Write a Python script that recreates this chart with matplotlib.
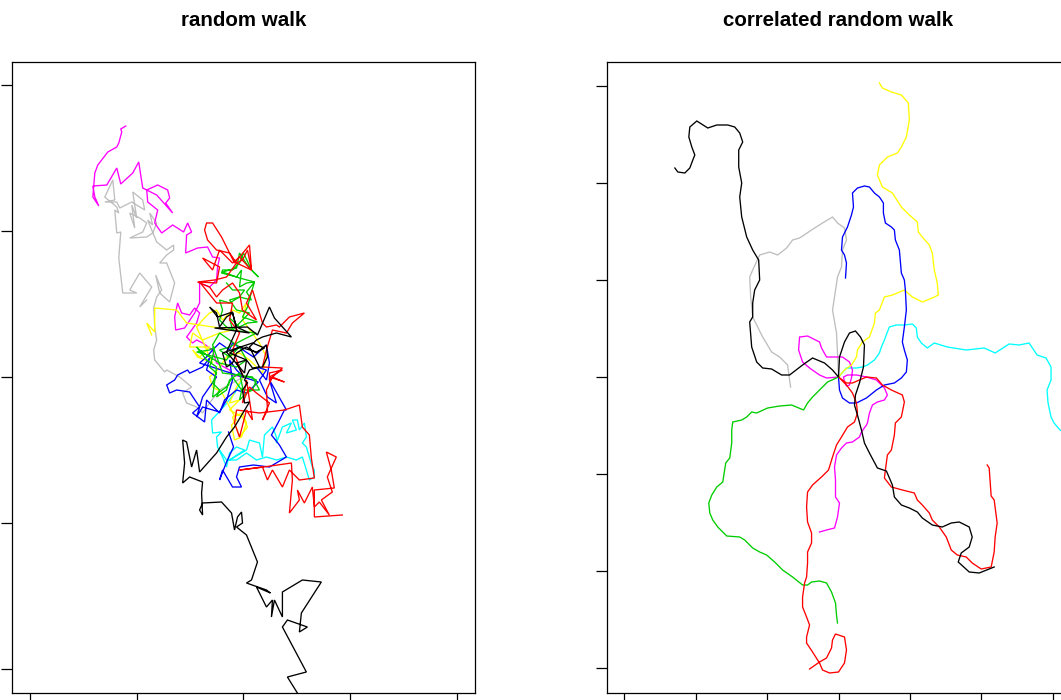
import numpy as np
import matplotlib
matplotlib.use("Agg")
import matplotlib.pyplot as plt

#Walk vertices, both panels start at the origin
#Left panel: plain random walk
rw_black = [(0, 0), (-7, 14), (3, 17), (-14, 24), (-4, 30), (13, 25), (21, 29), (9, 34),
            (-21, 24), (-17, 10), (-11, 14), (-7, 24), (3, 30), (13, 24), (23, 32), (24, 20),
            (19, 10), (9, 9), (3, 17), (1, 4), (-17, 25), (-7, 47), (-11, 65), (-26, 60),
            (-34, 70), (-27, 64), (-24, 50), (-17, 60), (-11, 64), (-7, 50), (6, 44),
            (-29, 49), (4, 50), (14, 42), (26, 70), (31, 59), (48, 40), (33, 44), (19, 40),
            (13, 37), (6, 30), (16, 10), (6, 7), (1, -3), (4, -6), (-1, -13), (1, -26),
            (6, -25), (-9, -50), (-17, -60), (-27, -76), (-44, -95), (-47, -73), (-52, -90),
            (-57, -65), (-61, -63), (-59, -86), (-61, -106), (-54, -100), (-41, -105),
            (-42, -116), (-41, -138), (-44, -133), (-41, -126), (-22, -125), (-12, -136),
            (-9, -153), (-6, -140), (-2, -135), (-1, -146), (-7, -150), (3, -158), (14, -185),
            (8, -203), (3, -206), (23, -213), (27, -216), (13, -210), (23, -230), (29, -223),
            (28, -240), (31, -223), (39, -240), (39, -215), (59, -203), (78, -205), (58, -236),
            (56, -255), (64, -250), (44, -243), (39, -250), (63, -295), (44, -300), (54, -316),
            (60, -330)]
rw_red = [(0, 0), (-11, 27), (-4, 44), (-14, 57), (-11, 74), (-27, 74), (-44, 95), (-27, 94),
          (-24, 110), (-41, 119), (-31, 107), (-24, 127), (-11, 114), (-4, 120), (8, 107),
          (6, 132), (-9, 114), (-17, 130), (-22, 140), (-31, 154), (-37, 154), (-39, 147),
          (-36, 137), (-27, 127), (-14, 124), (-7, 114), (-1, 117), (4, 127), (8, 107),
          (-7, 114), (-17, 100), (-29, 97), (-46, 95), (-34, 90), (-27, 80), (-21, 87),
          (-11, 94), (-4, 84), (-1, 67), (13, 57), (3, 74), (9, 87), (19, 54), (23, 50),
          (33, 52), (36, 50), (46, 60), (61, 64), (49, 54), (43, 44), (29, 47), (23, 27),
          (19, 10), (39, 9), (26, -3), (26, 4), (39, 7), (26, 0), (41, -5), (29, 0), (23, -13),
          (24, -33), (19, -43), (26, -26), (13, -16), (6, -10), (-1, -26), (3, -3), (9, -43),
          (3, -33), (-4, -60), (-9, -46), (-7, -33), (16, -36), (41, -33), (56, -28),
          (59, -50), (66, -58), (68, -81), (71, -101), (56, -103), (46, -93), (39, -110),
          (29, -93), (24, -103), (19, -90), (-4, -93), (13, -91), (48, -86), (49, -103),
          (46, -136), (56, -123), (54, -113), (61, -126), (69, -110), (71, -130), (76, -125),
          (86, -138), (78, -123), (89, -115), (84, -100), (93, -80), (83, -75), (88, -93),
          (91, -111), (71, -113), (71, -140), (99, -138)]
rw_green = [(0, 0), (6, 0), (13, -3), (9, -13), (3, -16), (-4, -23), (-1, -10), (-4, 4),
            (-14, -3), (-17, -13), (-27, -20), (-24, -13), (-31, -6), (-27, 4), (-34, 10),
            (-31, 20), (-29, 30), (-34, 27), (-47, 25), (-17, 17), (-11, 27), (-4, 30),
            (-24, 44), (-31, 32), (-21, 4), (9, 0), (16, -13), (-2, -13), (-11, 0), (-17, -10),
            (-31, -20), (-27, 10), (-37, 17), (-47, 30), (-44, 27), (-34, 20), (-24, 14),
            (-7, 10), (3, 17), (-4, 30), (-14, 20), (-24, 27), (-14, 30), (-1, 37), (13, 44),
            (3, 45), (-11, 47), (-1, 57), (6, 64), (-7, 67), (-14, 77), (-4, 80), (8, 77),
            (3, 85), (11, 95), (-4, 99), (-21, 105), (-7, 109), (-4, 124), (5, 110), (15, 100),
            (8, 107), (0, 124), (-4, 114), (-11, 107), (-21, 107), (-22, 104), (-7, 100),
            (-2, 107), (-4, 90), (3, 94), (11, 95), (8, 85), (4, 70), (-1, 60), (14, 55),
            (4, 54), (-4, 50), (-14, 59), (-11, 47), (-17, 50), (-24, 57), (-21, 67),
            (-24, 77), (-14, 74), (-4, 80), (1, 87), (-11, 87), (-17, 94)]
rw_blue = [(0, 0), (-7, 7), (-14, 17), (-11, -3), (-17, -23), (-24, -35), (-41, -30),
           (-47, -40), (-41, -20), (-34, -10), (-27, 0), (-37, 7), (-34, 19), (-41, 10),
           (-54, 4), (-56, 7), (-66, 2), (-69, -3), (-77, -8), (-74, -16), (-67, -13),
           (-54, -15), (-44, -30), (-51, -36), (-39, -45), (-37, -23), (-24, -36), (-19, -23),
           (-7, -13), (3, -16), (15, -5), (-44, 14), (-37, 20), (-31, 27), (-24, 34),
           (-14, 27), (-11, 34), (10, 20), (23, 32), (26, 14), (23, -3), (13, 10), (23, 7),
           (16, -3), (24, -20), (33, -26), (26, -3), (30, -10), (43, -33), (41, -33),
           (35, -45), (28, -58), (36, -68), (43, -80), (26, -90), (10, -88), (-4, -90),
           (-7, -100), (-2, -110), (-11, -110), (-21, -93), (-24, -103), (-17, -85), (-10, -70),
           (-15, -55)]
rw_cyan = [(0, 0), (-8, -15), (-20, -30), (-32, -43), (-31, -56), (-22, -55), (-27, -60),
           (-26, -70), (-21, -80), (-17, -90), (-14, -76), (-7, -70), (1, -73), (-14, -83),
           (3, -73), (6, -63), (16, -66), (19, -80), (21, -58), (29, -50), (33, -60), (33, -66),
           (39, -50), (48, -46), (43, -56), (53, -53), (49, -43), (54, -43), (56, -53),
           (61, -46), (63, -60), (59, -66), (63, -70), (66, -80), (69, -90), (71, -93),
           (71, -100), (66, -103), (63, -93), (59, -80), (53, -83), (43, -80), (33, -83),
           (23, -80), (13, -83), (3, -76), (-7, -83), (-17, -83), (-24, -73)]
rw_magenta = [(0, 0), (-11, 2), (-14, 7), (-27, 14), (-31, 27), (-41, 34), (-47, 37), (-51, 34),
              (-57, 40), (-47, 54), (-44, 64), (-49, 69), (-54, 62), (-62, 64), (-66, 74),
              (-69, 60), (-68, 47), (-59, 49), (-49, 64), (-44, 74), (-44, 94), (-34, 90),
              (-27, 97), (-26, 110), (-24, 119), (-31, 120), (-36, 130), (-46, 129), (-58, 124),
              (-57, 142), (-52, 145), (-56, 154), (-60, 145), (-71, 152), (-82, 144), (-89, 154),
              (-86, 167), (-96, 175), (-97, 187), (-86, 192), (-76, 187), (-74, 179), (-78, 174),
              (-71, 164), (-87, 182), (-101, 189), (-105, 215), (-111, 204), (-123, 193),
              (-127, 209), (-137, 192), (-151, 191), (-149, 180), (-145, 171), (-151, 180),
              (-149, 204), (-146, 212), (-136, 225), (-127, 230), (-125, 234), (-122, 245),
              (-123, 248), (-118, 251)]
rw_yellow = [(0, 0), (-7, -10), (-14, -26), (-4, -23), (-14, -33), (-1, -40), (4, -50),
             (-4, -60), (-11, -40), (-1, -36), (3, -46), (-2, -60), (-9, -63), (-12, -48),
             (-7, -43), (-22, -15), (-31, -10), (-34, 0), (-26, 7), (-17, 20), (-4, 24), (6, 17),
             (19, 4), (23, 20), (16, 34), (-1, 57), (3, 74), (-4, 64), (-11, 67), (-21, 57),
             (-27, 67), (-34, 64), (-41, 57), (-47, 50), (-37, 27), (-31, 14), (-46, 20),
             (-51, 27), (-44, 20), (-34, 30), (-54, 30), (-51, 44), (-41, 37), (-24, 44),
             (-11, 47), (-57, 54), (-67, 67), (-89, 69), (-89, 45), (-97, 54), (-92, 42)]
rw_gray = [(0, 0), (-24, -13), (-34, -26), (-41, -36), (-47, -30), (-57, -26), (-61, -16),
           (-52, -10), (-64, 0), (-77, 7), (-79, 5), (-89, 17), (-90, 27), (-87, 37), (-89, 50),
           (-90, 69), (-87, 80), (-82, 87), (-88, 102), (-84, 84), (-74, 75), (-69, 94),
           (-77, 114), (-84, 114), (-77, 122), (-70, 127), (-70, 132), (-77, 127), (-87, 135),
           (-92, 147), (-96, 157), (-91, 152), (-94, 164), (-87, 154), (-91, 144), (-97, 140),
           (-114, 139), (-101, 145), (-97, 154), (-104, 159), (-114, 164), (-109, 149),
           (-112, 172), (-107, 159), (-111, 185), (-101, 177), (-99, 167), (-112, 175),
           (-124, 169), (-127, 175), (-139, 175), (-129, 177), (-131, 197), (-139, 180),
           (-127, 170), (-125, 164), (-129, 167), (-127, 144), (-123, 145), (-125, 119),
           (-121, 84), (-107, 84), (-114, 87), (-104, 104), (-92, 90), (-104, 70), (-97, 77)]

#Right panel: correlated random walk
crw_black = [(-164, 209), (-161, 205), (-154, 204), (-149, 209), (-146, 217), (-144, 222),
             (-147, 230), (-150, 240), (-149, 250), (-142, 256), (-131, 249), (-122, 252),
             (-111, 252), (-104, 250), (-99, 244), (-96, 235), (-100, 227), (-100, 210),
             (-97, 194), (-99, 180), (-97, 160), (-92, 140), (-86, 127), (-80, 117), (-79, 97),
             (-84, 87), (-86, 74), (-86, 60), (-89, 55), (-87, 30), (-82, 15), (-76, 9),
             (-67, 8), (-57, 2), (-49, 2), (-36, 12), (-26, 19), (-14, 14), (-6, 7), (0, 0),
             (1, 20), (6, 35), (11, 44), (17, 46), (22, 40), (26, 32), (25, 10), (21, -6),
             (17, -18), (16, -28), (19, -38), (23, -53), (26, -66), (31, -76), (39, -91),
             (48, -94), (54, -108), (56, -120), (63, -128), (71, -131), (79, -135), (84, -141),
             (94, -148), (104, -150), (113, -146), (121, -145), (131, -150), (134, -160),
             (131, -170), (123, -176), (120, -185), (131, -195), (141, -196), (156, -190)]
crw_red = [(-29, -292), (-19, -285), (-12, -281), (-7, -271), (-6, -263), (-3, -257),
           (6, -260), (8, -273), (6, -286), (0, -295), (-9, -296), (-16, -293), (-19, -286),
           (-26, -275), (-32, -266), (-32, -260), (-29, -248), (-32, -240), (-36, -230),
           (-36, -220), (-34, -206), (-32, -200), (-31, -186), (-31, -175), (-27, -166),
           (-27, -156), (-31, -145), (-32, -130), (-31, -115), (-26, -108), (-16, -99),
           (-10, -93), (-6, -80), (-2, -68), (3, -60), (9, -50), (16, -45), (19, -36),
           (18, -26), (14, -16), (8, -8), (0, 0), (8, -6), (14, -6), (21, -3), (28, 0),
           (38, -1), (44, -8), (53, -13), (64, -18), (66, -25), (63, -40), (57, -46), (56, -58),
           (53, -73), (49, -78), (47, -93), (46, -101), (53, -110), (64, -113), (76, -116),
           (79, -123), (84, -128), (91, -136), (94, -143), (101, -150), (108, -160), (113, -173),
           (119, -178), (128, -180), (134, -186), (143, -192), (153, -190), (156, -175),
           (157, -160), (159, -146), (156, -123), (153, -119), (151, -91), (149, -88)]
crw_green = [(0, 0), (-11, -5), (-19, -13), (-26, -20), (-31, -26), (-35, -33), (-47, -28),
             (-59, -29), (-71, -31), (-82, -36), (-87, -35), (-92, -40), (-97, -43), (-106, -45),
             (-107, -53), (-107, -66), (-109, -81), (-113, -86), (-116, -105), (-122, -110),
             (-127, -118), (-130, -126), (-129, -136), (-126, -143), (-121, -150), (-112, -159),
             (-99, -160), (-94, -163), (-86, -171), (-79, -175), (-72, -178), (-64, -185),
             (-56, -193), (-46, -200), (-36, -208), (-31, -208), (-27, -205), (-19, -204),
             (-12, -206), (-7, -215), (-3, -226), (-2, -238), (-1, -246)]
crw_blue = [(0, 0), (1, -13), (4, -21), (11, -26), (18, -26), (28, -21), (38, -13), (46, -8),
            (56, -6), (63, -1), (68, 5), (69, 17), (66, 27), (64, 35), (66, 50), (68, 67),
            (67, 87), (66, 97), (63, 104), (61, 127), (57, 137), (56, 147), (53, 150), (47, 154),
            (45, 164), (45, 174), (41, 180), (36, 184), (31, 190), (26, 191), (19, 189),
            (14, 184), (15, 170), (13, 162), (9, 150), (4, 140), (3, 127), (6, 122), (8, 114),
            (7, 99)]
crw_cyan = [(0, 0), (8, 9), (18, 9), (24, 10), (29, 12), (36, 17), (41, 24), (43, 30), (46, 37),
            (49, 45), (51, 50), (58, 52), (66, 52), (74, 53), (78, 49), (79, 40), (83, 34),
            (89, 29), (96, 34), (109, 30), (128, 27), (146, 29), (157, 24), (171, 33),
            (181, 32), (191, 34), (199, 22), (208, 19), (213, 10), (213, -3), (209, -13),
            (210, -26), (213, -40), (216, -46), (222, -53), (235, -60)]
crw_magenta = [(0, 0), (-12, -1), (-19, 2), (-29, 9), (-36, 15), (-40, 27), (-39, 40),
               (-31, 41), (-19, 35), (-17, 29), (-12, 20), (-2, 20), (4, 20), (11, 15), (14, 7),
               (13, -1), (11, -8), (8, -9), (6, -5), (5, 0), (9, 2), (18, 2), (28, 0), (38, -3),
               (46, -11), (49, -18), (46, -23), (39, -25), (34, -28), (31, -36), (29, -46),
               (28, -48), (23, -55), (21, -60), (14, -65), (8, -66), (3, -71), (-2, -78),
               (-4, -90), (-3, -103), (-3, -120), (1, -126), (-1, -140), (-4, -151), (-12, -153),
               (-19, -155)]
crw_yellow = [(0, 0), (6, 7), (13, 12), (18, 20), (19, 27), (24, 35), (31, 40), (36, 54),
              (37, 64), (41, 67), (46, 80), (54, 82), (66, 87), (74, 80), (84, 75), (94, 79),
              (100, 82), (99, 94), (96, 107), (94, 124), (91, 132), (84, 140), (80, 145),
              (79, 155), (71, 162), (63, 170), (54, 184), (44, 190), (39, 202), (41, 212),
              (49, 220), (59, 224), (63, 230), (68, 240), (71, 257), (70, 274), (63, 282),
              (53, 285), (44, 289), (41, 294)]
crw_gray = [(0, 0), (-1, 24), (-2, 44), (-6, 67), (-4, 80), (-1, 100), (3, 110), (4, 127),
            (8, 137), (6, 149), (-1, 154), (-6, 160), (-16, 154), (-27, 147), (-39, 139),
            (-46, 137), (-52, 129), (-61, 122), (-69, 125), (-79, 122), (-86, 107), (-89, 100),
            (-88, 80), (-86, 60), (-81, 50), (-76, 40), (-67, 25), (-59, 20), (-51, 12),
            (-49, -3), (-48, -10)]

#R default palette, drawn back to front
COLORS = {"black": "#000000", "red": "#FF0000", "green": "#00CD00", "blue": "#0000FF",
          "cyan": "#00FFFF", "magenta": "#FF00FF", "yellow": "#FFFF00", "gray": "#BEBEBE"}
ORDER = ["cyan", "gray", "magenta", "yellow", "blue", "green", "red", "black"]

left_walks = {"black": rw_black, "red": rw_red, "green": rw_green, "blue": rw_blue,
              "cyan": rw_cyan, "magenta": rw_magenta, "yellow": rw_yellow, "gray": rw_gray}
right_walks = {"black": crw_black, "red": crw_red, "green": crw_green, "blue": crw_blue,
               "cyan": crw_cyan, "magenta": crw_magenta, "yellow": crw_yellow, "gray": crw_gray}

W, H = 1061, 700
fig = plt.figure(figsize=(W / 100, H / 100), dpi=100)
plt.rcParams["font.family"] = ["Liberation Sans", "DejaVu Sans"]

def panel(rect, walks, title, xt, yt):
    ax = fig.add_axes(rect)
    for name in ORDER:
        pts = np.array(walks[name], dtype=float)
        ax.plot(pts[:, 0], pts[:, 1], color=COLORS[name], lw=0.95, solid_joinstyle="miter")
    ax.set_xlim(-232, 232)
    ax.set_ylim(-316, 315)
    ax.set_xticks(xt)
    ax.set_yticks(yt)
    ax.tick_params(direction="out", length=8, width=0.9, labelbottom=False, labelleft=False)
    for s in ax.spines.values():
        s.set_linewidth(0.9)
    ax.set_title(title, fontsize=14.8, fontweight="bold", pad=26)
    return ax

#Both panels share the same pixel box, the right one runs past the figure edge
rect_h = 631 / H
panel([12 / W, 7 / H, 463 / W, rect_h], left_walks, "random walk",
      np.arange(-2, 3) * 107, np.arange(-2, 3) * 146)
panel([607 / W, 7 / H, 463 / W, rect_h], right_walks, "correlated random walk",
      np.arange(-3, 4) * 71.6, np.arange(-3, 4) * 97)

fig.savefig("out.png", dpi=100)
